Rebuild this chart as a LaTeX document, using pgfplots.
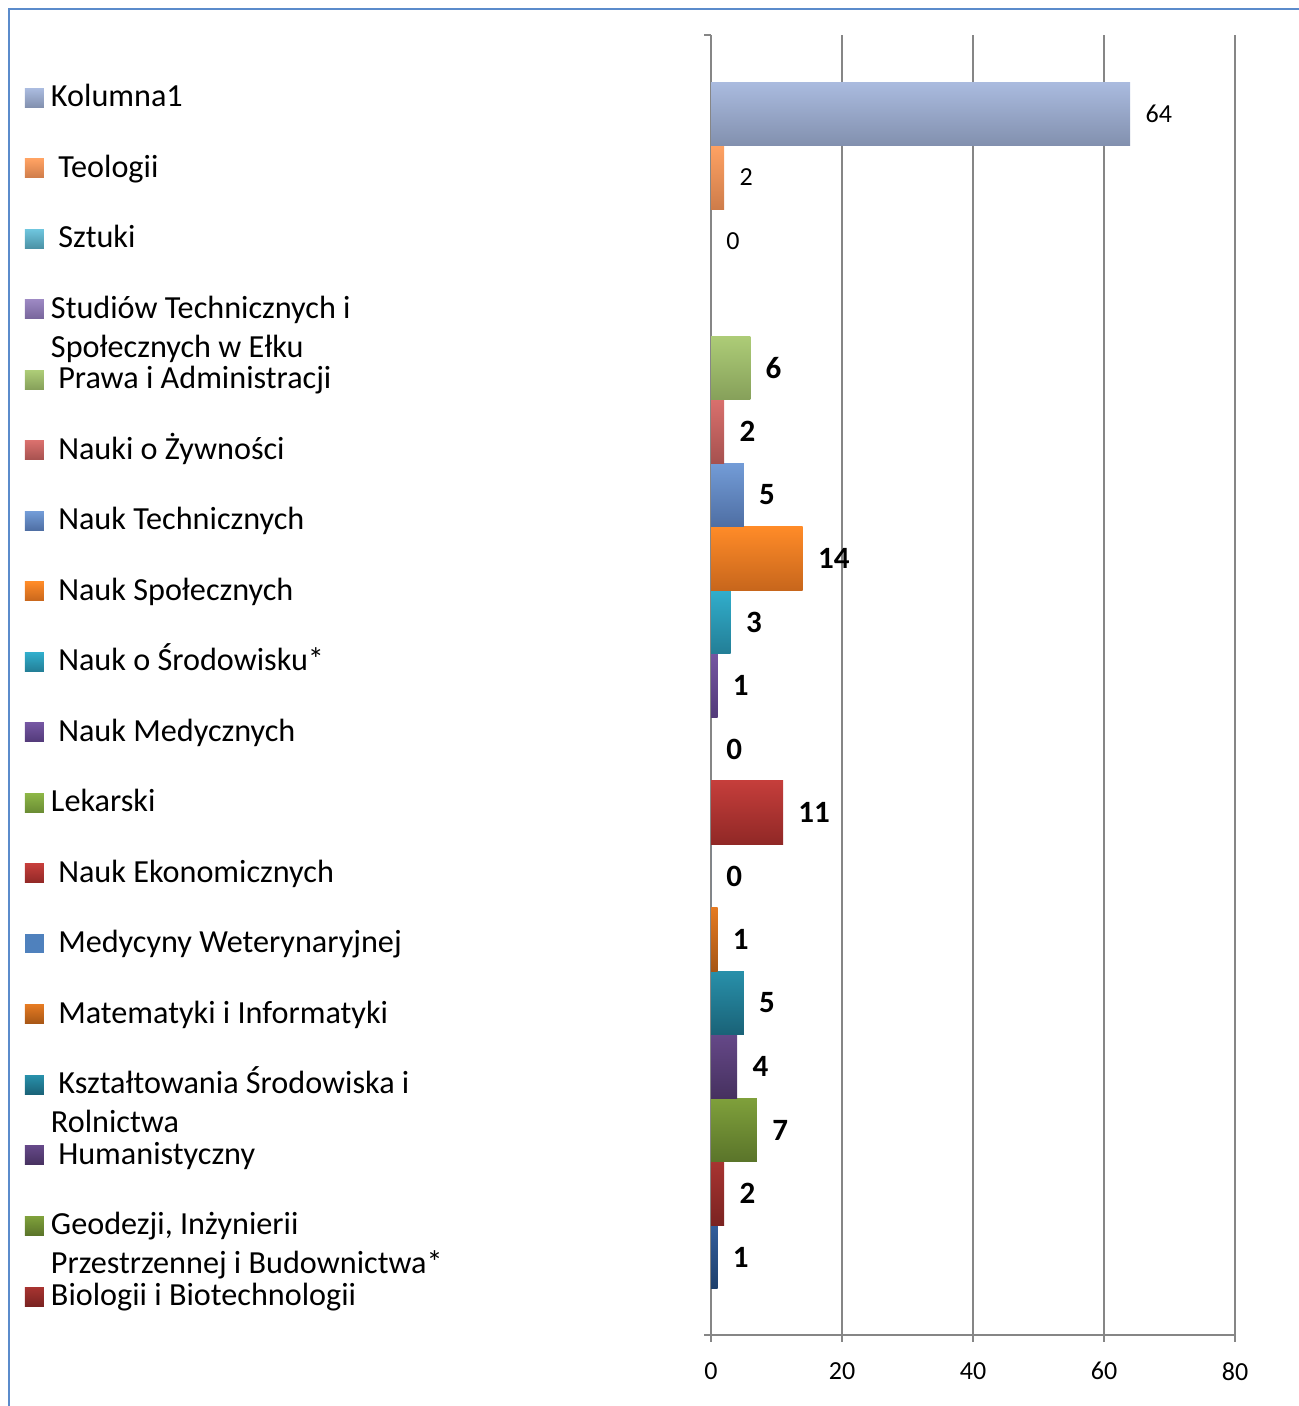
\documentclass[border=0pt]{standalone}
\usepackage{pgfplots}
\pgfplotsset{compat=1.18}
\usepackage{fontspec}
\setmainfont{Carlito}
\definecolor{axgray}{HTML}{868686}
\definecolor{frameblue}{HTML}{5B8BCB}
\newcommand{\legfont}{\fontsize{16.1}{19.5}\selectfont}
\newcommand{\two}[2]{\smash{\begin{tabular}[t]{@{}l@{}}#1\\#2\end{tabular}}}
\begin{document}
\begin{tikzpicture}
\useasboundingbox (0,0) rectangle (649.5pt,703pt);
\draw[frameblue, line width=1pt] (4.7pt,-2pt) -- (4.7pt,698.3pt) -- (652pt,698.3pt);
\begin{axis}[
  at={(355.5pt,35.5pt)}, anchor=south west,
  scale only axis, width=262pt, height=650pt,
  xmin=0, xmax=80, ymin=-0.228, ymax=20.244,
  xbar, bar width=1, bar shift=0pt,
  point meta=x,
  axis x line*=bottom, axis y line*=left,
  axis line style={draw=axgray, line width=1pt, -},
  xtick={0,20,40,60,80},
  xmajorgrids, grid style={draw=axgray, line width=1pt},
  ytick={-0.228,20.244}, yticklabels={},
  tick align=outside, major tick length=3.5pt,
  tick style={draw=axgray, line width=1pt},
  /pgf/number format/assume math mode=true,
  xticklabel style={font=\fontsize{13}{15}\selectfont, inner sep=0pt, yshift=-10pt},
  nodes near coords,
  every node near coord/.append style={anchor=west, inner sep=0pt, xshift=7.5pt,
     font=\fontsize{15.5}{18}\selectfont\bfseries},
  legend image code/.code={\fill[#1] (0pt,-4.75pt) rectangle (9.5pt,4.75pt);},
  reverse legend,
  legend cell align=left,
  legend style={at={(axis description cs:-1.30916,0.96462)}, anchor=north west,
     draw=none, fill=none, inner sep=0pt, outer sep=0pt, row sep=18.25pt,
     nodes={inner sep=0pt, text height=13pt, text depth=4pt, font=\legfont},
     /tikz/every odd column/.style={column sep=3.5pt}},
]
\addplot[forget plot, draw=none, top color={rgb,255:red,51;green,94;blue,156}, bottom color={rgb,255:red,30;green,63;blue,107}] coordinates {(1,1)};
\addplot[draw=none, top color={rgb,255:red,168;green,52;blue,49}, bottom color={rgb,255:red,122;green,35;blue,33}] coordinates {(2,2)};
\addlegendentry{Biologii i Biotechnologii}
\addplot[draw=none, top color={rgb,255:red,127;green,160;blue,59}, bottom color={rgb,255:red,90;green,116;blue,42}] coordinates {(7,3)};
\addlegendentry{\two{Geodezji, Inżynierii}{Przestrzennej i Budownictwa*}}
\addplot[draw=none, top color={rgb,255:red,101;green,72;blue,136}, bottom color={rgb,255:red,70;green,49;blue,95}] coordinates {(4,4)};
\addlegendentry{\ Humanistyczny}
\addplot[draw=none, top color={rgb,255:red,40;green,144;blue,170}, bottom color={rgb,255:red,26;green,98;blue,119}] coordinates {(5,5)};
\addlegendentry{\two{\ Kształtowania Środowiska i}{Rolnictwa}}
\addplot[draw=none, top color={rgb,255:red,228;green,122;blue,34}, bottom color={rgb,255:red,165;green,85;blue,21}] coordinates {(1,6)};
\addlegendentry{\ Matematyki i Informatyki}
\addplot[draw=none, fill={rgb,255:red,79;green,129;blue,189}] coordinates {(0,7)};
\addlegendentry{\ Medycyny Weterynaryjnej}
\addplot[draw=none, top color={rgb,255:red,197;green,62;blue,59}, bottom color={rgb,255:red,144;green,40;blue,38}] coordinates {(11,8)};
\addlegendentry{\ Nauk Ekonomicznych}
\addplot[draw=none, top color={rgb,255:red,141;green,182;blue,70}, bottom color={rgb,255:red,106;green,140;blue,52}] coordinates {(0,9)};
\addlegendentry{Lekarski}
\addplot[draw=none, top color={rgb,255:red,117;green,86;blue,162}, bottom color={rgb,255:red,82;green,58;blue,121}] coordinates {(1,10)};
\addlegendentry{\ Nauk Medycznych}
\addplot[draw=none, top color={rgb,255:red,49;green,174;blue,204}, bottom color={rgb,255:red,35;green,126;blue,150}] coordinates {(3,11)};
\addlegendentry{\ Nauk o Środowisku*}
\addplot[draw=none, top color={rgb,255:red,255;green,139;blue,40}, bottom color={rgb,255:red,199;green,102;blue,28}] coordinates {(14,12)};
\addlegendentry{\ Nauk Społecznych}
\addplot[draw=none, top color={rgb,255:red,115;green,156;blue,215}, bottom color={rgb,255:red,78;green,110;blue,163}] coordinates {(5,13)};
\addlegendentry{\ Nauk Technicznych}
\addplot[draw=none, top color={rgb,255:red,217;green,112;blue,109}, bottom color={rgb,255:red,166;green,81;blue,79}] coordinates {(2,14)};
\addlegendentry{\ Nauki o Żywności}
\addplot[draw=none, top color={rgb,255:red,173;green,204;blue,119}, bottom color={rgb,255:red,134;green,160;blue,90}] coordinates {(6,15)};
\addlegendentry{\ Prawa i Administracji}
\addplot[draw=none, nodes near coords={}, top color={rgb,255:red,156;green,136;blue,194}, bottom color={rgb,255:red,119;green,101;blue,155}] coordinates {(0,16)};
\addlegendentry{\two{Studiów Technicznych i}{Społecznych w Ełku}}
\addplot[draw=none, every node near coord/.append style={font=\fontsize{13}{15}\selectfont}, top color={rgb,255:red,110;green,197;blue,221}, bottom color={rgb,255:red,75;green,145;blue,165}] coordinates {(0,17)};
\addlegendentry{\ Sztuki}
\addplot[draw=none, every node near coord/.append style={font=\fontsize{13}{15}\selectfont}, top color={rgb,255:red,255;green,162;blue,99}, bottom color={rgb,255:red,206;green,124;blue,74}] coordinates {(2,18)};
\addlegendentry{\ Teologii}
\addplot[draw=none, every node near coord/.append style={font=\fontsize{13}{15}\selectfont}, top color={rgb,255:red,170;green,187;blue,223}, bottom color={rgb,255:red,130;green,144;blue,174}] coordinates {(64,19)};
\addlegendentry{Kolumna1}
\end{axis}
\end{tikzpicture}
\end{document}
